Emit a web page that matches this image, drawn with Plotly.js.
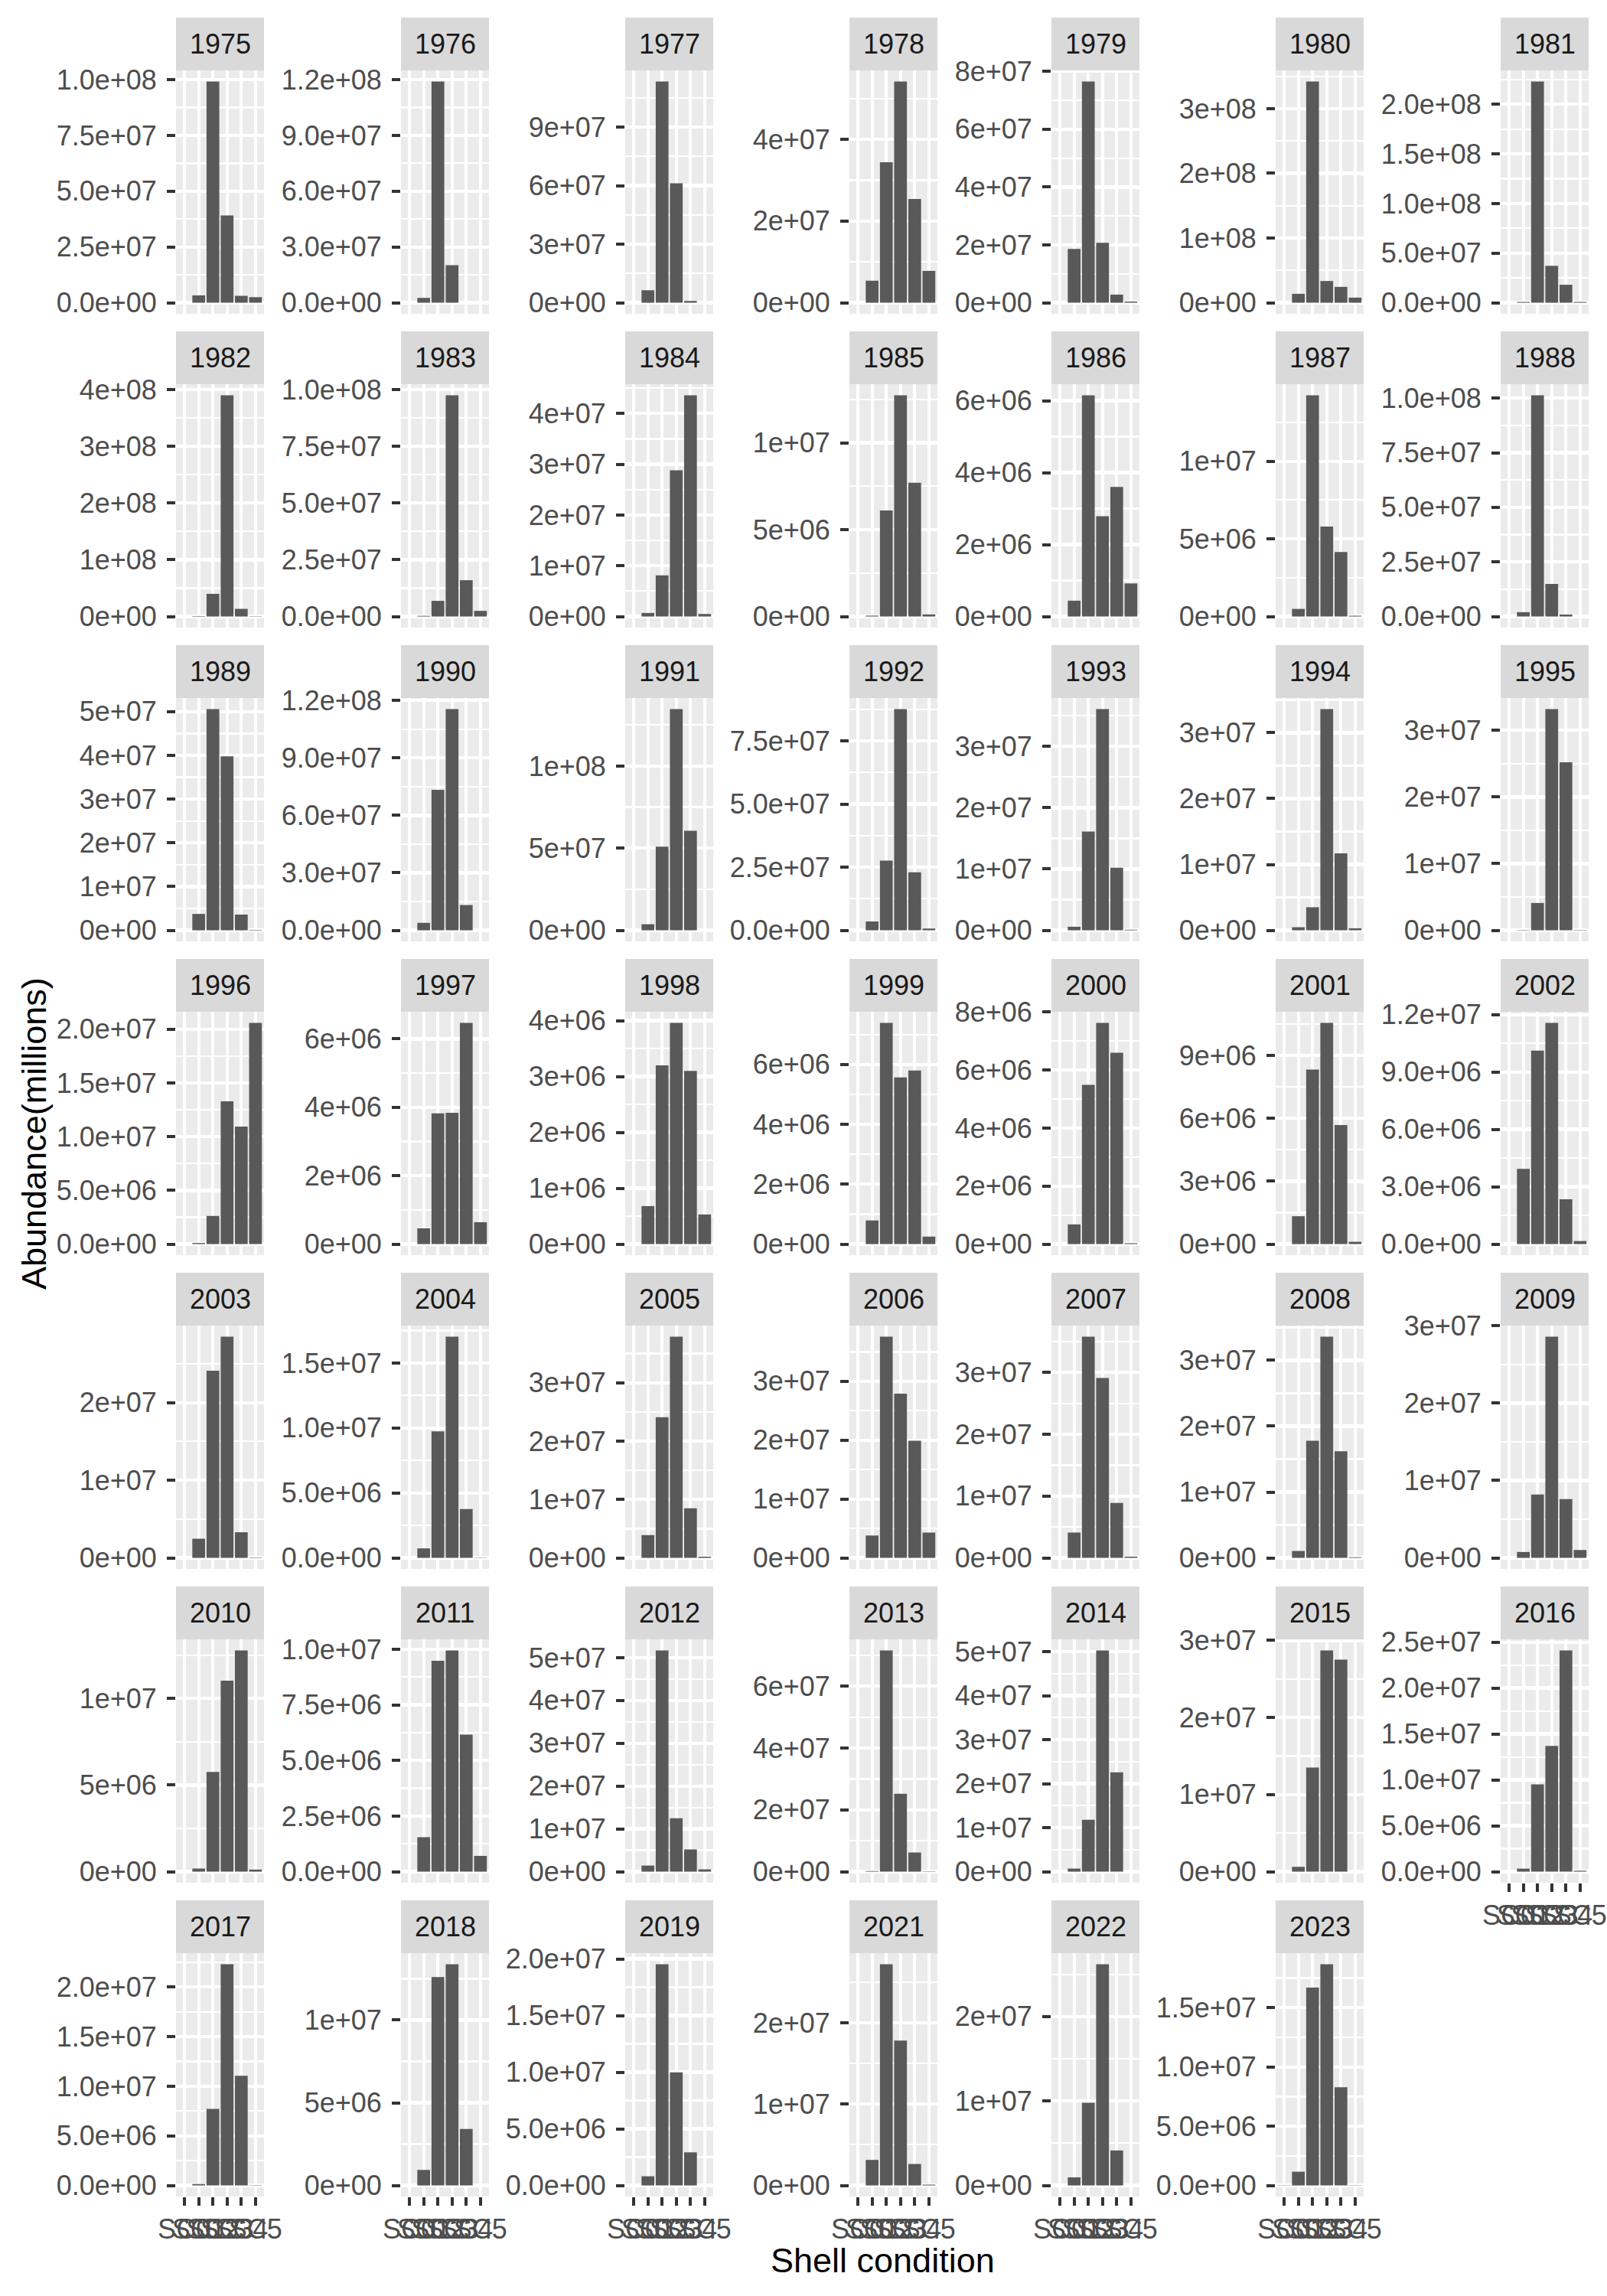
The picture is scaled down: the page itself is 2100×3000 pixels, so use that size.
<!DOCTYPE html>
<html>
<head>
<meta charset="utf-8">
<script src="https://cdn.plot.ly/plotly-3.0.1.min.js"></script>
<style>html,body{margin:0;padding:0;background:#ffffff;}</style>
</head>
<body>
<div id="chart" style="width:2100px;height:3000px;"></div>
<script>
// ---------------- DATA ----------------
const years = ["1975","1976","1977","1978","1979","1980","1981",
               "1982","1983","1984","1985","1986","1987","1988",
               "1989","1990","1991","1992","1993","1994","1995",
               "1996","1997","1998","1999","2000","2001","2002",
               "2003","2004","2005","2006","2007","2008","2009",
               "2010","2011","2012","2013","2014","2015","2016",
               "2017","2018","2019","2021","2022","2023"];

const shellConditions = ["SC0","SC1","SC2","SC3","SC4","SC5"];

// abundance by shell condition, one value per year (same order as years)
const sc0 = [0,0,0,0,0,0,0,
             0,0,0,0,0,0,0,
             0,0,0,0,0,0,0,
             0,0,0,0,0,0,0,
             0,0,0,0,0,0,0,
             0,0,0,0,0,0,0,
             0,0,0,0,0,2e4];
const sc1 = [3.3e6,2.6e6,6.4e6,5.4e6,1.86e7,1.38e7,8e5,
             8e5,3e5,7e5,5e4,4.4e5,4.9e5,2.0e6,
             3.75e6,3.9e6,3.7e6,3.5e6,5.8e5,4.7e5,5e4,
             1e5,4.6e5,6.8e5,7.9e5,6.8e5,1.33e6,3.93e6,
             2.47e6,7.3e5,3.9e6,3.8e6,4.1e6,1.05e6,7.6e5,
             1.8e5,1.55e6,1.43e6,2e5,7e5,6.3e5,3.3e5,
             1.4e5,9.4e5,8.1e5,3.14e6,9.6e5,1.16e6];
const sc2 = [9.92e7,1.19e8,1.134e8,3.44e7,7.65e7,3.42e8,2.23e8,
             4.0e7,6.9e6,8.1e6,6.11e6,6.15e6,1.425e7,1.013e8,
             5.06e7,7.33e7,5.09e7,2.76e7,1.61e7,3.5e6,4.1e6,
             2.62e6,3.82e6,3.20e6,7.39e6,5.49e6,8.33e6,1.012e7,
             2.41e7,9.74e6,2.41e7,3.76e7,3.58e7,1.78e7,8.2e6,
             5.76e6,9.48e6,5.17e7,7.16e7,1.18e7,1.35e7,9.5e6,
             7.72e6,1.26e7,1.953e7,2.72e7,9.8e6,1.67e7];
const sc3 = [3.91e7,2.02e7,6.12e7,5.42e7,2.07e7,3.36e7,3.72e7,
             3.90e8,9.75e7,2.88e7,1.274e7,2.79e6,5.8e6,1.49e7,
             3.98e7,1.155e8,1.347e8,8.76e7,3.61e7,3.36e7,3.32e7,
             1.33e7,3.84e6,3.96e6,5.57e6,7.63e6,1.056e7,1.157e7,
             2.85e7,1.703e7,3.79e7,2.79e7,2.91e7,3.36e7,2.86e7,
             1.103e7,9.95e6,1.25e7,2.52e7,5.03e7,2.87e7,1.37e7,
             2.23e7,1.338e7,9.99e6,1.78e7,2.62e7,1.867e7];
const sc4 = [3.1e6,0,9e5,2.54e7,2.8e6,2.45e7,1.81e7,
             1.35e7,1.60e7,4.36e7,7.70e6,3.60e6,4.15e6,9e5,
             3.6e6,1.32e7,6.06e7,2.30e7,1.02e7,1.17e7,2.52e7,
             1.095e7,6.47e6,3.10e6,5.80e6,6.60e6,5.68e6,2.34e6,
             3.3e6,3.76e6,8.5e6,1.99e7,8.9e6,1.62e7,7.6e6,
             1.278e7,6.16e6,5.2e6,6.2e6,2.26e7,2.75e7,2.41e7,
             1.106e7,3.41e6,2.92e6,2.64e6,4.14e6,8.28e6];
const sc5 = [2.5e6,0,0,7.8e6,4e5,7.9e6,8e5,
             5e5,2.5e6,5e5,1.2e5,9.2e5,5e4,0,
             1e5,0,0,7e5,1e5,3e5,5e4,
             2.06e7,6.4e5,5.3e5,2.5e5,3e4,1.1e5,1.6e5,
             5e4,2e4,2e5,4.3e6,2e5,1e5,1.02e6,
             1.2e5,7.1e5,5.4e5,1e5,0,0,1e5,
             3e4,0,0,1e5,0,2e4];

// y-axis tick labels of each panel (same order as years)
const yTickLabels = [
 ["0.0e+00","2.5e+07","5.0e+07","7.5e+07","1.0e+08"],
 ["0.0e+00","3.0e+07","6.0e+07","9.0e+07","1.2e+08"],
 ["0e+00","3e+07","6e+07","9e+07"],
 ["0e+00","2e+07","4e+07"],
 ["0e+00","2e+07","4e+07","6e+07","8e+07"],
 ["0e+00","1e+08","2e+08","3e+08"],
 ["0.0e+00","5.0e+07","1.0e+08","1.5e+08","2.0e+08"],
 ["0e+00","1e+08","2e+08","3e+08","4e+08"],
 ["0.0e+00","2.5e+07","5.0e+07","7.5e+07","1.0e+08"],
 ["0e+00","1e+07","2e+07","3e+07","4e+07"],
 ["0e+00","5e+06","1e+07"],
 ["0e+00","2e+06","4e+06","6e+06"],
 ["0e+00","5e+06","1e+07"],
 ["0.0e+00","2.5e+07","5.0e+07","7.5e+07","1.0e+08"],
 ["0e+00","1e+07","2e+07","3e+07","4e+07","5e+07"],
 ["0.0e+00","3.0e+07","6.0e+07","9.0e+07","1.2e+08"],
 ["0e+00","5e+07","1e+08"],
 ["0.0e+00","2.5e+07","5.0e+07","7.5e+07"],
 ["0e+00","1e+07","2e+07","3e+07"],
 ["0e+00","1e+07","2e+07","3e+07"],
 ["0e+00","1e+07","2e+07","3e+07"],
 ["0.0e+00","5.0e+06","1.0e+07","1.5e+07","2.0e+07"],
 ["0e+00","2e+06","4e+06","6e+06"],
 ["0e+00","1e+06","2e+06","3e+06","4e+06"],
 ["0e+00","2e+06","4e+06","6e+06"],
 ["0e+00","2e+06","4e+06","6e+06","8e+06"],
 ["0e+00","3e+06","6e+06","9e+06"],
 ["0.0e+00","3.0e+06","6.0e+06","9.0e+06","1.2e+07"],
 ["0e+00","1e+07","2e+07"],
 ["0.0e+00","5.0e+06","1.0e+07","1.5e+07"],
 ["0e+00","1e+07","2e+07","3e+07"],
 ["0e+00","1e+07","2e+07","3e+07"],
 ["0e+00","1e+07","2e+07","3e+07"],
 ["0e+00","1e+07","2e+07","3e+07"],
 ["0e+00","1e+07","2e+07","3e+07"],
 ["0e+00","5e+06","1e+07"],
 ["0.0e+00","2.5e+06","5.0e+06","7.5e+06","1.0e+07"],
 ["0e+00","1e+07","2e+07","3e+07","4e+07","5e+07"],
 ["0e+00","2e+07","4e+07","6e+07"],
 ["0e+00","1e+07","2e+07","3e+07","4e+07","5e+07"],
 ["0e+00","1e+07","2e+07","3e+07"],
 ["0.0e+00","5.0e+06","1.0e+07","1.5e+07","2.0e+07","2.5e+07"],
 ["0.0e+00","5.0e+06","1.0e+07","1.5e+07","2.0e+07"],
 ["0e+00","5e+06","1e+07"],
 ["0.0e+00","5.0e+06","1.0e+07","1.5e+07","2.0e+07"],
 ["0e+00","1e+07","2e+07"],
 ["0e+00","1e+07","2e+07"],
 ["0.0e+00","5.0e+06","1.0e+07","1.5e+07"]
];

const xTitle = "Shell condition";
const yTitle = "Abundance(millions)";

// ---------------- LAYOUT GEOMETRY ----------------
const W = 2100, H = 3000;
const colLeft = [230, 524, 817, 1110, 1374, 1667, 1961];
const panelW = 115;
const rowPitch = 410, panelTop0 = 92, panelH = 318, stripTop0 = 23;
const nCols = 7;
const FONT = "Liberation Sans, Arial, Helvetica, sans-serif";

const traces = [];
const layout = {
  width: W, height: H,
  margin: {l: 0, r: 0, t: 0, b: 0},
  paper_bgcolor: "#FFFFFF",
  plot_bgcolor: "#EBEBEB",
  showlegend: false,
  bargap: 0.1,
  font: {family: FONT, size: 36, color: "#4D4D4D"},
  annotations: [],
  shapes: []
};

const series = [sc0, sc1, sc2, sc3, sc4, sc5];

years.forEach((yr, i) => {
  const r = Math.floor(i / nCols), c = i % nCols;
  const x0 = colLeft[c], x1 = x0 + panelW;
  const top = panelTop0 + r * rowPitch, bot = top + panelH;
  const stripTop = stripTop0 + r * rowPitch;
  const vals = series.map(s => s[i]);
  const maxV = Math.max(...vals);
  const key = i === 0 ? "" : String(i + 1);
  const isBottom = (i + nCols >= years.length);

  traces.push({
    type: "bar",
    x: shellConditions,
    y: vals,
    xaxis: "x" + key,
    yaxis: "y" + key,
    marker: {color: "#595959", line: {width: 0}},
    width: 0.9,
    hoverinfo: "x+y"
  });

  const labels = yTickLabels[i];
  const tv = labels.map(Number);
  const step = tv[1] - tv[0];
  const minor = [tv[0] - step / 2];
  for (let k = 0; k < tv.length; k++) minor.push(tv[k] + step / 2);

  layout["xaxis" + key] = {
    domain: [x0 / W, x1 / W],
    anchor: "y" + key,
    type: "category",
    categoryorder: "array",
    categoryarray: shellConditions,
    range: [-0.6, 5.6],
    tickmode: "array",
    tickvals: shellConditions,
    ticktext: shellConditions,
    showticklabels: isBottom,
    ticks: isBottom ? "outside" : "",
    ticklen: 11, tickwidth: 4, tickcolor: "#333333",
    tickangle: 0,
    ticklabelstandoff: 0,
    tickfont: {family: FONT, size: 36, color: "#4D4D4D"},
    showgrid: true, gridcolor: "#FFFFFF", gridwidth: 4.3,
    zeroline: false, showline: false, fixedrange: true
  };
  layout["yaxis" + key] = {
    domain: [1 - bot / H, 1 - top / H],
    anchor: "x" + key,
    range: [-0.05 * maxV, 1.05 * maxV],
    tickmode: "array",
    tickvals: tv,
    ticktext: labels,
    ticks: "outside",
    ticklen: 11, tickwidth: 4, tickcolor: "#333333",
    ticklabelstandoff: 6,
    tickfont: {family: FONT, size: 36, color: "#4D4D4D"},
    showgrid: true, gridcolor: "#FFFFFF", gridwidth: 4.3,
    minor: {tickmode: "array", tickvals: minor, showgrid: true,
            gridcolor: "#FFFFFF", gridwidth: 2.2, ticks: ""},
    zeroline: false, showline: false, fixedrange: true
  };

  // facet strip
  layout.shapes.push({
    type: "rect", xref: "paper", yref: "paper",
    x0: x0 / W, x1: x1 / W, y0: 1 - top / H, y1: 1 - stripTop / H,
    fillcolor: "#D9D9D9", line: {width: 0}
  });
  layout.annotations.push({
    xref: "paper", yref: "paper",
    x: (x0 + x1) / 2 / W, y: 1 - (stripTop + top) / 2 / H,
    xanchor: "center", yanchor: "middle",
    text: yr, showarrow: false,
    font: {family: FONT, size: 36, color: "#1A1A1A"}
  });
});

layout.annotations.push({
  xref: "paper", yref: "paper",
  x: (colLeft[0] + colLeft[6] + panelW) / 2 / W, y: 1 - 2953 / H,
  xanchor: "center", yanchor: "middle",
  text: xTitle, showarrow: false,
  font: {family: FONT, size: 45, color: "#000000"}
});
layout.annotations.push({
  xref: "paper", yref: "paper",
  x: 44 / W, y: 1 - 1481 / H,
  xanchor: "center", yanchor: "middle",
  text: yTitle, showarrow: false, textangle: -90,
  font: {family: FONT, size: 45, color: "#000000"}
});

Plotly.newPlot("chart", traces, layout, {staticPlot: true, displayModeBar: false});
</script>
</body>
</html>
